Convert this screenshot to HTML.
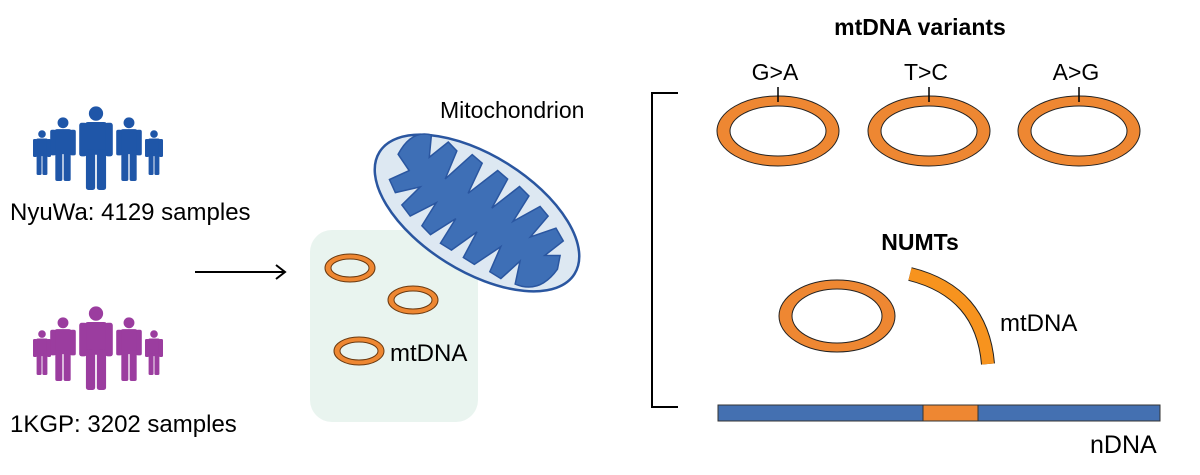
<!DOCTYPE html>
<html><head><meta charset="utf-8"><style>
html,body{margin:0;padding:0;background:#fff;width:1200px;height:475px;overflow:hidden}
text{font-family:"Liberation Sans",Arial,sans-serif;fill:#000}
</style></head><body>
<svg width="1200" height="475" viewBox="0 0 1200 475" xmlns="http://www.w3.org/2000/svg">
<defs>
<symbol id="p" viewBox="0 0 40 100">
<circle cx="20" cy="9" r="8.5"/>
<path d="M7 22 Q7 19 11 19 L29 19 Q33 19 33 22 L33 58 L7 58 Z"/>
<rect x="0" y="20" width="9" height="40" rx="3"/>
<rect x="31" y="20" width="9" height="40" rx="3"/>
<rect x="8" y="52" width="11" height="48" rx="3"/>
<rect x="21" y="52" width="11" height="48" rx="3"/>
</symbol>
</defs>
<g fill="#1f56a8">
<use href="#p" x="30" y="130" width="24" height="45"/>
<use href="#p" x="142" y="130" width="24" height="45"/>
<use href="#p" x="45" y="117" width="36" height="64"/>
<use href="#p" x="111" y="117" width="36" height="64"/>
<use href="#p" x="72" y="106" width="48" height="84"/>
</g>
<g fill="#9b3d9f">
<use href="#p" x="30" y="330" width="24" height="45"/>
<use href="#p" x="142" y="330" width="24" height="45"/>
<use href="#p" x="45" y="317" width="36" height="64"/>
<use href="#p" x="111" y="317" width="36" height="64"/>
<use href="#p" x="72" y="306" width="48" height="84"/>
</g>
<text x="10" y="220" font-size="24">NyuWa: 4129 samples</text>
<text x="10" y="432" font-size="24">1KGP: 3202 samples</text>
<line x1="195" y1="272" x2="284" y2="272" stroke="#000" stroke-width="2"/>
<path d="M276 265 L285 272 L276 279" fill="none" stroke="#000" stroke-width="2"/>
<rect x="310" y="230" width="168" height="192" rx="22" fill="#e9f4ef"/>
<text x="440" y="118" font-size="23">Mitochondrion</text>
<g transform="translate(477,213) rotate(32)">
<ellipse cx="0" cy="0" rx="115" ry="58" fill="#dde8f2" stroke="#2a56a0" stroke-width="2.5"/>
<path d="M-98 -8 Q-100 -36 -80 -42 L-70 -22 L-62 -45 L-50 -42 L-45 -12 L-35 -47 L-22 -45 L-18 -12 L-5 -47 L8 -45 L10 -12 L22 -45 L35 -42 L35 -12 L50 -39 L62 -35 L58 -8 L75 -29 L88 -22 L80 0 L93 -8 L98 5 Q96 36 70 40 L62 18 L55 43 L42 43 L38 16 L25 45 L12 45 L10 16 L-2 45 L-15 45 L-15 16 L-28 43 L-40 40 L-40 13 L-55 38 L-68 33 L-62 8 L-80 26 L-92 18 L-80 0 Z" fill="#3e6fb6" stroke="#2a56a0" stroke-width="1.5"/>
</g>
<g fill="#ee8732" stroke="#6b3a10" stroke-width="1" fill-rule="evenodd">
<path d="M325 268 a25 14 0 1 0 50 0 a25 14 0 1 0 -50 0 Z M331 268 a19 9 0 1 0 38 0 a19 9 0 1 0 -38 0 Z"/>
<path d="M388 300 a25 14 0 1 0 50 0 a25 14 0 1 0 -50 0 Z M394 300 a19 9 0 1 0 38 0 a19 9 0 1 0 -38 0 Z"/>
<path d="M334 351 a25 14 0 1 0 50 0 a25 14 0 1 0 -50 0 Z M340 351 a19 9 0 1 0 38 0 a19 9 0 1 0 -38 0 Z"/>
</g>
<text x="390" y="361" font-size="24">mtDNA</text>
<path d="M678 93 L652 93 L652 407 L678 407" fill="none" stroke="#000" stroke-width="2"/>
<text x="920" y="35" font-size="23" font-weight="bold" text-anchor="middle">mtDNA variants</text>
<g fill="#ee8732" stroke="#222" stroke-width="1" fill-rule="evenodd">
<path d="M717 131 a61 35 0 1 0 122 0 a61 35 0 1 0 -122 0 Z M730 131 a48 25 0 1 0 96 0 a48 25 0 1 0 -96 0 Z"/>
<path d="M868 131 a61 35 0 1 0 122 0 a61 35 0 1 0 -122 0 Z M881 131 a48 25 0 1 0 96 0 a48 25 0 1 0 -96 0 Z"/>
<path d="M1018 131 a61 35 0 1 0 122 0 a61 35 0 1 0 -122 0 Z M1031 131 a48 25 0 1 0 96 0 a48 25 0 1 0 -96 0 Z"/>
</g>
<g stroke="#000" stroke-width="1.5">
<line x1="778" y1="87" x2="778" y2="102"/>
<line x1="929" y1="87" x2="929" y2="102"/>
<line x1="1079" y1="87" x2="1079" y2="102"/>
</g>
<text x="775" y="80" font-size="23" text-anchor="middle">G&gt;A</text>
<text x="926" y="80" font-size="23" text-anchor="middle">T&gt;C</text>
<text x="1076" y="80" font-size="23" text-anchor="middle">A&gt;G</text>
<text x="920" y="250" font-size="23" font-weight="bold" text-anchor="middle">NUMTs</text>
<g fill="#ee8732" stroke="#222" stroke-width="1" fill-rule="evenodd">
<path d="M779 316 a58 36 0 1 0 116 0 a58 36 0 1 0 -116 0 Z M792 316 a45 27 0 1 0 90 0 a45 27 0 1 0 -90 0 Z"/>
</g>
<path d="M910 274 Q982 292 988 364" fill="none" stroke="#222" stroke-width="14"/>
<path d="M910 274 Q982 292 988 364" fill="none" stroke="#f7931e" stroke-width="12"/>
<text x="1000" y="331" font-size="24">mtDNA</text>
<rect x="718" y="405" width="442" height="16" fill="#4470b1" stroke="#333" stroke-width="1"/>
<rect x="923" y="405" width="55" height="16" fill="#ee8732" stroke="#333" stroke-width="1"/>
<text x="1090" y="453" font-size="25">nDNA</text>
</svg>
</body></html>
